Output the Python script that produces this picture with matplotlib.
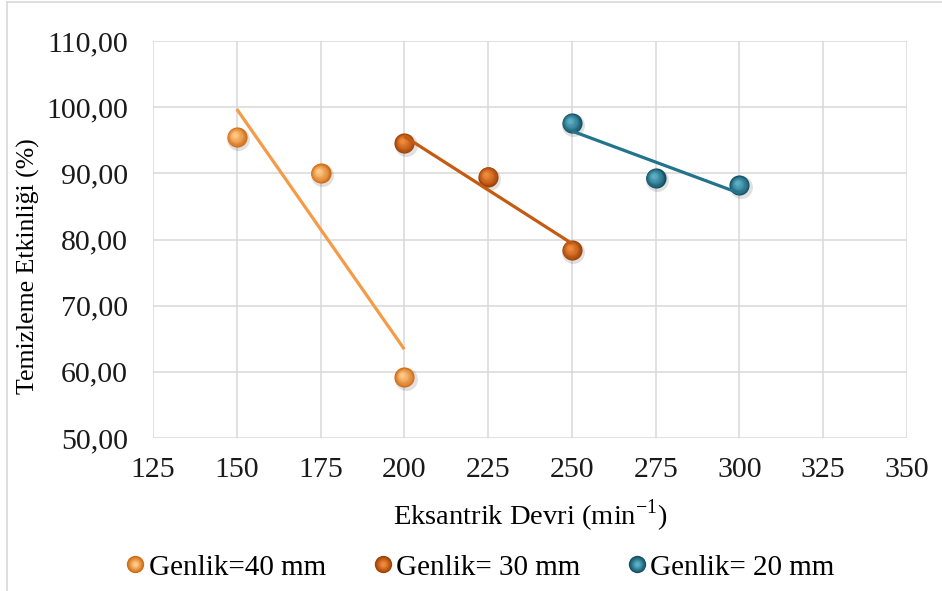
import numpy as np
import matplotlib
matplotlib.use('Agg')
import matplotlib.pyplot as plt
from matplotlib.transforms import offset_copy
from matplotlib.lines import Line2D
from matplotlib.colors import to_rgb
from matplotlib.legend_handler import HandlerTuple

plt.rcParams['font.family'] = ['Liberation Serif', 'DejaVu Serif']

# Temizleme etkinliği verileri
x_40 = [150, 175, 200]
y_40 = [95.5, 90.0, 59.2]
x_30 = [200, 225, 250]
y_30 = [94.6, 89.5, 78.4]
x_20 = [250, 275, 300]
y_20 = [97.6, 89.3, 88.2]

labels = ['Genlik=40 mm', 'Genlik= 30 mm', 'Genlik= 20 mm']
# (koyu kenar, açık orta, çizgi rengi)
colors = [('#D06A12', '#FFC884', '#F59B47'),
          ('#9E3F05', '#F08A3A', '#C55A11'),
          ('#124F63', '#5AAFC6', '#23738C')]

x_ticks = [125, 150, 175, 200, 225, 250, 275, 300, 325, 350]
y_ticks = [50, 60, 70, 80, 90, 100, 110]


def mix(c1, c2, t):
    a, b = np.array(to_rgb(c1)), np.array(to_rgb(c2))
    return tuple(a + (b - a) * t)


def sphere(ax, fig, xs, ys, dark, light, ms=14.5):
    # gölge
    tr = offset_copy(ax.transData, fig, x=1.0, y=-1.5, units='points')
    ax.plot(xs, ys, 'o', ms=ms + 2, color='#000000', alpha=0.12,
            mec='none', transform=tr, zorder=3, ls='none')
    n = 12
    for i in range(n):
        t = i / (n - 1)
        size = ms * (1 - 0.8 * t)
        dx = -0.22 * ms * t * 0.5
        dy = 0.22 * ms * t * 0.5
        tr = offset_copy(ax.transData, fig, x=dx, y=dy, units='points')
        ax.plot(xs, ys, 'o', ms=size, color=mix(dark, light, t ** 0.8),
                mec='none', transform=tr, zorder=4, ls='none')


fig = plt.figure(figsize=(9.42, 5.91), dpi=100)
ax = fig.add_axes([0.1624, 0.2589, 0.8004, 0.6717])

series = [(x_40, y_40), (x_30, y_30), (x_20, y_20)]
handles = []
for (xs, ys), (dark, light, lc), lab in zip(series, colors, labels):
    sphere(ax, fig, xs, ys, dark, light)
    # doğrusal eğilim çizgisi
    k, b = np.polyfit(xs, ys, 1)
    xl = np.array([xs[0], xs[-1]])
    ax.plot(xl, k * xl + b, color=lc, lw=2.3, zorder=5, solid_capstyle='butt')
    h = tuple(Line2D([], [], ls='none', marker='o', ms=12.5 * (1 - 0.75 * t),
                     color=mix(dark, light, t), mec='none')
              for t in np.linspace(0, 1, 8))
    handles.append(h)

ax.set_xlim(125, 350)
ax.set_ylim(50, 110)
ax.set_xticks(x_ticks)
ax.set_yticks(y_ticks)
ax.set_yticklabels([f'{v:.2f}'.replace('.', ',') for v in y_ticks])
ax.grid(True, color='#D9D9D9', lw=1.1)
ax.set_axisbelow(True)
for s in ax.spines.values():
    s.set_visible(False)
ax.tick_params(length=0, labelsize=21.5, colors='#1a1a1a')
ax.tick_params(axis='x', pad=14)
ax.tick_params(axis='y', pad=18)

ax.set_xlabel('Eksantrik Devri (min$^{\\mathregular{-1}}$)', fontsize=20.5, labelpad=10)
ax.set_ylabel('Temizleme Etkinliği (%)', fontsize=18.5)
ax.yaxis.set_label_coords(-0.150, 0.433)

fig.legend(handles, labels, loc='center', bbox_to_anchor=(0.51, 0.04), ncol=3,
           frameon=False, fontsize=21, handler_map={tuple: HandlerTuple(ndivide=1, pad=0)},
           handlelength=0.6, handletextpad=0.15, columnspacing=1.65)

# çerçeve (üst ve sol kenar)
fig.add_artist(Line2D([0.0075, 1.0], [0.996, 0.996], color='#D9D9D9', lw=1.2,
                      transform=fig.transFigure))
fig.add_artist(Line2D([0.0075, 0.0075], [0.0, 0.996], color='#D9D9D9', lw=1.2,
                      transform=fig.transFigure))

fig.savefig('out.png', dpi=100)
